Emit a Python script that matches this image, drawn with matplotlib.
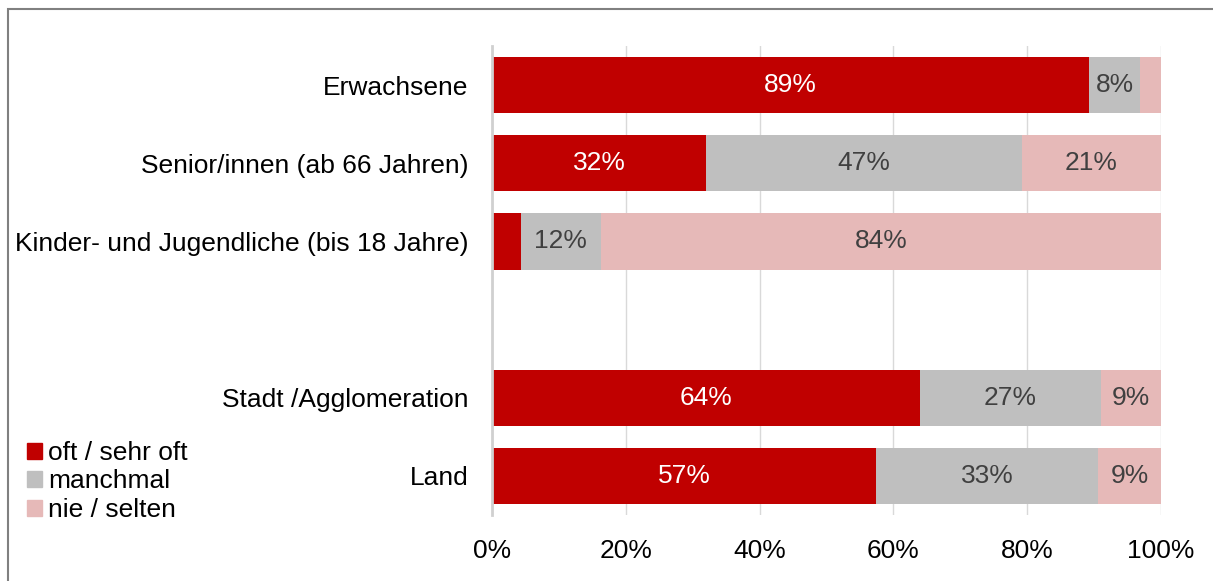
import matplotlib.pyplot as plt
from matplotlib.patches import Patch

plt.rcParams['font.family'] = ['Liberation Sans', 'DejaVu Sans']

# Data
categories = ["Erwachsene", "Senior/innen (ab 66 Jahren)",
              "Kinder- und Jugendliche (bis 18 Jahre)", "",
              "Stadt /Agglomeration", "Land"]
oft = [89.2, 32.0, 4.3, 0, 64.0, 57.4]
manchmal = [7.7, 47.2, 12.0, 0, 27.0, 33.2]
nie = [3.1, 20.8, 83.7, 0, 9.0, 9.4]
series_names = ["oft / sehr oft", "manchmal", "nie / selten"]
colors = ["#C00000", "#BFBFBF", "#E6B9B8"]
text_colors = ["white", "#404040", "#404040"]

fig = plt.figure(figsize=(12.13, 5.81), dpi=100)
ax = fig.add_axes([492 / 1213, 1 - 515 / 581, 669 / 1213, 469 / 581])

ypos = list(range(len(categories)))
left = [0] * len(categories)
for vals, col, tcol in zip([oft, manchmal, nie], colors, text_colors):
    ax.barh(ypos, vals, left=left, height=0.72, color=col, zorder=2)
    for y, v, l in zip(ypos, vals, left):
        if v >= 6:
            ax.text(l + v / 2, y, f"{round(v)}%", ha="center", va="center",
                    color=tcol, fontsize=19, zorder=3)
    left = [a + b for a, b in zip(left, vals)]

ax.set_xlim(0, 100)
ax.set_ylim(5.5, -0.5)
ax.set_xticks([0, 20, 40, 60, 80, 100])
ax.set_xticklabels([f"{t}%" for t in [0, 20, 40, 60, 80, 100]], fontsize=19)
ax.set_yticks(ypos)
ax.set_yticklabels(categories, fontsize=19)
ax.tick_params(length=0, pad=17)
ax.tick_params(axis="x", pad=17)
ax.xaxis.grid(True, color="#D9D9D9", linewidth=1, zorder=0)
for s in ["top", "right", "bottom"]:
    ax.spines[s].set_visible(False)
ax.spines["left"].set_color("#D0D0D0")
ax.spines["left"].set_linewidth(2)

handles = [Patch(color=c, label=n) for c, n in zip(colors, series_names)]
fig.legend(handles=handles, loc="upper left", bbox_to_anchor=(27 / 1213, 1 - 441 / 581),
           frameon=False, fontsize=19, handlelength=0.55, handleheight=0.55,
           handletextpad=0.25, labelspacing=0.17, borderaxespad=0, borderpad=0)

# outer chart border
fig.add_artist(plt.Rectangle((8 / 1213, -0.1), 1.2, 1 - 9 / 581 + 0.1,
                             transform=fig.transFigure, fill=False,
                             edgecolor="#808080", linewidth=1.5))

fig.savefig("out.png", dpi=100)
